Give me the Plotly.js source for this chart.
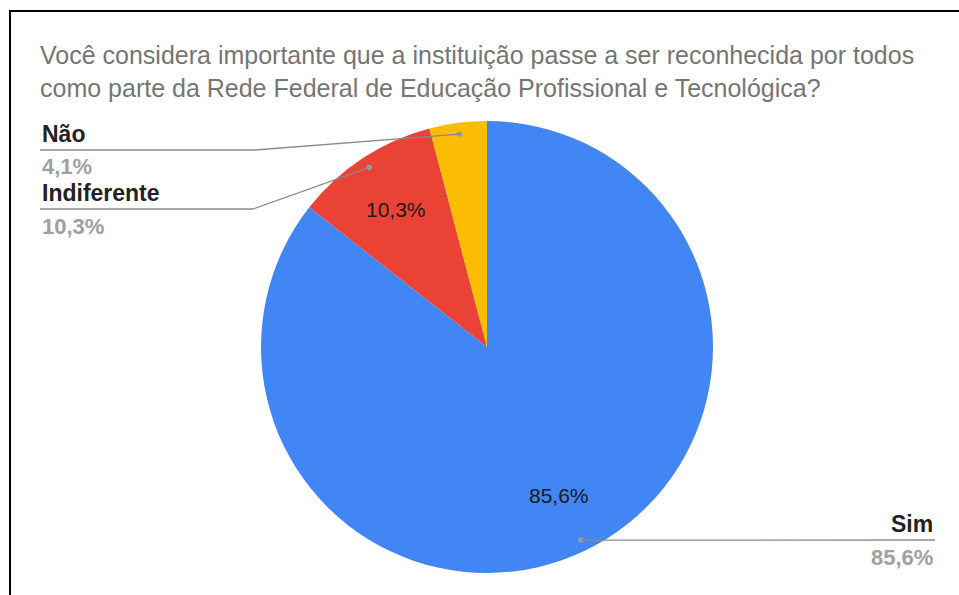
<!DOCTYPE html>
<html>
<head>
<meta charset="utf-8">
<script src="https://cdn.plot.ly/plotly-3.0.1.min.js"></script>
<style>html,body{margin:0;padding:0;background:#fff;}#chart{width:959px;height:595px;}</style>
</head>
<body>
<div id="chart"></div>
<script>
// ---- data ----
const titleText = "Você considera importante que a instituição passe a ser reconhecida por todos<br>como parte da Rede Federal de Educação Profissional e Tecnológica?";
const labels = ["Sim", "Indiferente", "Não"];
const values = [85.6, 10.3, 4.1];
const colors = ["#4285F4", "#EA4335", "#FBBC04"];

// ---- layout constants (pixels) ----
const W = 959, H = 595;
const cx = 487, cy = 347, R = 226;
const FONT = 'Arial, "Liberation Sans", sans-serif';
const px = x => x / W;
const py = y => 1 - y / H;
const fmt = v => v.toFixed(1).replace('.', ',') + '%';

// outside label placement (pixel positions), one per slice
const outside = [
  {side: 'right', textX: 935, nameY: 524, lineY: 540, pctY: 557, elbowX: null},
  {side: 'left',  textX: 40,  nameY: 193, lineY: 209, pctY: 226, elbowX: 253},
  {side: 'left',  textX: 40,  nameY: 134, lineY: 150, pctY: 166, elbowX: 255}
];
const showInside = [true, true, false];

const total = values.reduce((a, b) => a + b, 0);
let cum = 0;
const annotations = [], shapes = [];
values.forEach((v, i) => {
  const mid = (cum + v / 2) / total * 2 * Math.PI; // clockwise from top
  cum += v;
  const s = Math.sin(mid), c = Math.cos(mid);
  if (showInside[i]) {
    const d = 0.73 * R;
    annotations.push({xref: 'paper', yref: 'paper', x: px(cx + d * s), y: py(cy - d * c),
      text: fmt(v), showarrow: false, xanchor: 'center', yanchor: 'middle',
      font: {family: FONT, size: 21, color: '#1a1a1a'}});
  }
  const dd = 0.95 * R;
  const dx = cx + dd * s, dy = cy - dd * c;
  shapes.push({type: 'circle', xref: 'paper', yref: 'paper',
    x0: px(dx - 2.8), x1: px(dx + 2.8), y0: py(dy + 2.8), y1: py(dy - 2.8),
    fillcolor: '#9a9a9a', line: {width: 0}});
  const o = outside[i];
  let path;
  if (o.side === 'right') {
    path = `M ${px(dx)} ${py(dy)} L ${px(o.textX)} ${py(o.lineY)}`;
  } else {
    path = `M ${px(dx)} ${py(dy)} L ${px(o.elbowX)} ${py(o.lineY)} L ${px(o.textX)} ${py(o.lineY)}`;
  }
  shapes.push({type: 'path', xref: 'paper', yref: 'paper', path: path,
    line: {color: '#8a8a8a', width: 1.3}});
  const anchor = o.side === 'right' ? 'right' : 'left';
  annotations.push({xref: 'paper', yref: 'paper', x: px(o.textX), y: py(o.nameY),
    text: '<b>' + labels[i] + '</b>', showarrow: false, xanchor: anchor, yanchor: 'middle',
    font: {family: FONT, size: 23, color: '#222222'}});
  annotations.push({xref: 'paper', yref: 'paper', x: px(o.textX), y: py(o.pctY),
    text: '<b>' + fmt(v) + '</b>', showarrow: false, xanchor: anchor, yanchor: 'middle',
    font: {family: FONT, size: 22, color: '#a0a0a0'}});
});

// frame
shapes.push({type: 'rect', xref: 'paper', yref: 'paper',
  x0: px(10), x1: 1.02, y0: -0.02, y1: py(11), line: {color: '#000', width: 2}});

const trace = {
  type: 'pie', labels: labels, values: values, sort: false,
  direction: 'clockwise', rotation: 0,
  marker: {colors: colors, line: {width: 0}},
  textinfo: 'none', hoverinfo: 'label+percent', showlegend: false,
  domain: {x: [px(cx - R), px(cx + R)], y: [py(cy + R), py(cy - R)]}
};

const layout = {
  width: W, height: H,
  margin: {l: 0, r: 0, t: 0, b: 0},
  paper_bgcolor: '#ffffff', plot_bgcolor: '#ffffff',
  title: {text: titleText, x: px(40), xanchor: 'left', xref: 'paper',
    y: py(64), yanchor: 'top', yref: 'paper',
    font: {family: FONT, size: 25, color: '#757575'}},
  annotations: annotations,
  shapes: shapes,
  showlegend: false
};

Plotly.newPlot('chart', [trace], layout, {displayModeBar: false, staticPlot: true});
</script>
</body>
</html>
